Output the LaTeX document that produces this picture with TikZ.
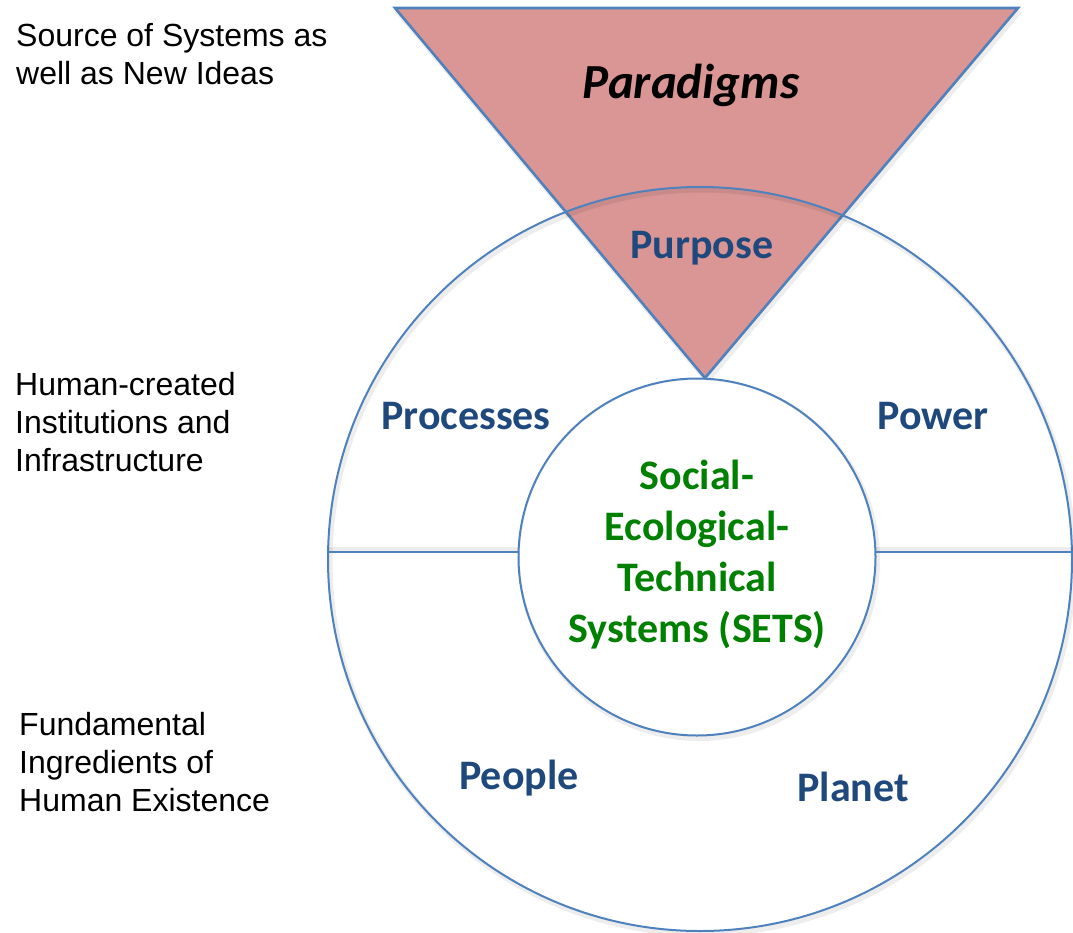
\documentclass[tikz,border=0pt]{standalone}
\usepackage{fontspec}
\setmainfont{Liberation Sans}
\newfontfamily\calibrifont{Carlito}
\definecolor{edgeblue}{HTML}{4F81BD}
\definecolor{trifill}{HTML}{D99694}
\definecolor{txtblue}{HTML}{1F497D}
\definecolor{txtgreen}{HTML}{008000}
\begin{document}
\begin{tikzpicture}[x=1pt,y=-1pt,
  outline/.style={draw=edgeblue,line width=2pt},
  shade/.style={draw=black,opacity=0.07,line width=5pt},
  sidelabel/.style={anchor=north west,inner sep=0pt,align=left,font=\fontsize{32}{38}\selectfont},
  bluelabel/.style={text=txtblue,inner sep=0pt,font=\calibrifont\bfseries\fontsize{42}{50}\selectfont},
  greenlabel/.style={text=txtgreen,inner sep=0pt,align=center,font=\calibrifont\bfseries\fontsize{42}{51}\selectfont}
]
\useasboundingbox (0,0) rectangle (1073,932);
% triangle
\coordinate (tl) at (395,8);
\coordinate (tr) at (1018,8);
\coordinate (apex) at (705,378);
\draw[shade] ([shift={(2,3)}]tl) -- ([shift={(2,3)}]apex) -- ([shift={(2,3)}]tr);
\fill[trifill] (tl) -- (tr) -- (apex) -- cycle;
\draw[edgeblue,line width=2.6pt,line join=miter] (tl) -- (tr) -- (apex) -- cycle;
% big circle
\node[circle,minimum size=744pt,inner sep=0pt] (big) at (700,559) {};
\draw[shade] (702,562) circle[radius=372];
\draw[outline] (big.center) circle[radius=372];
% inner circle
\node[circle,minimum size=357pt,inner sep=0pt] (inner) at (697,557) {};
\draw[shade] (699,560) circle[radius=178.5];
\fill[white] (inner.center) circle[radius=177];
\draw[outline] (inner.center) circle[radius=178.5];
% horizontal divider
\coordinate (hlA) at (328,552);
\coordinate (hlB) at (518,552);
\coordinate (hrA) at (876,552);
\coordinate (hrB) at (1073,552);
\draw[shade] ([yshift=3]hlA) -- ([yshift=3]hlB);
\draw[shade] ([yshift=3]hrA) -- ([yshift=3]hrB);
\draw[outline] (hlA) -- (hlB);
\draw[outline] (hrA) -- (hrB);
% texts
\node[inner sep=0pt,font=\calibrifont\bfseries\itshape\fontsize{49}{58}\selectfont] (paradigms) at (691,85) {Paradigms};
\node[bluelabel] (purpose) at (702,248) {Purpose};
\node[bluelabel] (processes) at (466,416) {Processes};
\node[bluelabel] (power) at (933,416) {Power};
\node[bluelabel] (people) at (519,778) {People};
\node[bluelabel] (planet) at (853,787) {Planet};
\node[greenlabel] (sets) at (697,555) {Social-\\Ecological-\\Technical\\Systems (SETS)};
\node[sidelabel] (src) at (16,23) {Source of Systems as\\well as New Ideas};
\node[sidelabel] (human) at (15,372) {Human-created\\Institutions and\\Infrastructure};
\node[sidelabel] (fund) at (19,712) {Fundamental\\Ingredients of\\Human Existence};
\end{tikzpicture}
\end{document}
